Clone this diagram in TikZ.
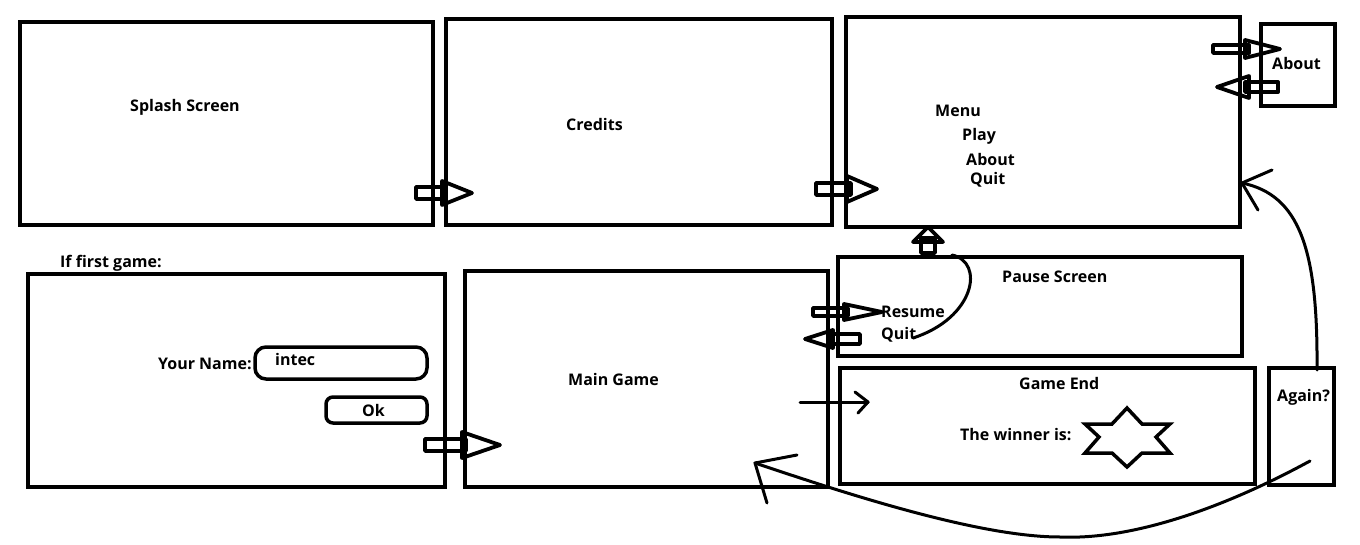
\documentclass[tikz,border=0pt]{standalone}
\usepackage{fontspec}
\setmainfont{Open Sans}
\begin{document}
\begin{tikzpicture}[x=1pt,y=-1pt,
  box/.style={draw, line width=4pt, inner sep=0pt, rectangle},
  lbl/.style={font=\fontsize{16}{19}\selectfont\bfseries, inner sep=0pt, anchor=base west, yshift=-1pt},
  arw/.style={draw, line width=3.8pt, line join=round},
  crv/.style={draw, line width=3pt, line cap=round, line join=round},
  pics/barrow/.style n args={4}{code={
    \draw[arw] (0,-#3) rectangle (#1-#2+4,#3);
    \draw[arw] (#1-#2,-#4) -- (#1,0) -- (#1-#2,#4) -- cycle;
  }}]
\useasboundingbox (0,0) rectangle (1360,545);
% boxes
\node[box, minimum width=413pt, minimum height=203pt] (splash) at (226.5,123.5) {};
\node[box, minimum width=386pt, minimum height=206pt] (credits) at (639,122) {};
\node[box, minimum width=394pt, minimum height=210pt] (menu) at (1043,122) {};
\node[box, minimum width=74pt, minimum height=82pt] (about) at (1298,65) {};
\node[box, minimum width=417pt, minimum height=213pt] (namebox) at (236.5,380.5) {};
\node[box, minimum width=363pt, minimum height=216pt] (main) at (646.5,379) {};
\node[box, minimum width=404pt, minimum height=99pt] (pause) at (1040,306.5) {};
\node[box, minimum width=415pt, minimum height=116pt] (gameend) at (1047.5,426) {};
\node[box, minimum width=65pt, minimum height=117pt] (again) at (1301.5,426.5) {};
\node[box, rounded corners=11pt, line width=3.5pt, minimum width=172pt, minimum height=32pt] (field) at (341,363) {};
\node[box, rounded corners=7pt, line width=3.5pt, minimum width=101pt, minimum height=26pt] (okbtn) at (376.5,410) {};
% labels
\node[lbl] (tsplash) at (130,111) {Splash Screen};
\node[lbl] (tcredits) at (566,130) {Credits};
\node[lbl] (tmenu) at (935,116) {Menu};
\node[lbl] (tplay) at (962,140) {Play};
\node[lbl] (tabout) at (966,165) {About};
\node[lbl] (tquit) at (970,184) {Quit};
\node[lbl] (tabout2) at (1272,69) {About};
\node[lbl] (tfirst) at (60,267) {If first game:};
\node[lbl] (tname) at (158,368) {Your Name:};
\node[lbl] (tintec) at (275,364) {intec};
\node[lbl] (tok) at (362,415) {Ok};
\node[lbl] (tmain) at (568,384) {Main Game};
\node[lbl] (tpause) at (1002,282) {Pause Screen};
\node[lbl] (tresume) at (881,316) {Resume};
\node[lbl] (tquit2) at (881,339) {Quit};
\node[lbl] (tend) at (1019,388) {Game End};
\node[lbl] (twinner) at (960,439) {The winner is:};
\node[lbl] (tagain) at (1277,400) {Again?};
% block arrows
\pic at (416,193) {barrow={56}{30}{6}{12}};
\pic at (816,189) {barrow={61}{30}{6}{13}};
\pic at (1213,49) {barrow={67}{35}{4}{9}};
\pic[rotate=180] at (1278,87) {barrow={61}{32}{5}{11}};
\pic[rotate=90] at (928,253) {barrow={26}{15}{7}{15}};
\pic at (813,312) {barrow={69}{38}{4}{8}};
\pic[rotate=180] at (860,339) {barrow={55}{28}{5}{9}};
\pic at (425,445) {barrow={75}{38}{6}{13}};
% star
\node[inner sep=0pt] (star) at (1127,437) {};
\draw[line width=3.5pt, line join=miter] (1127,408) -- (1112,424) -- (1085,424) -- (1099,437) -- (1085,453) -- (1112,453) -- (1127,467) -- (1142,453) -- (1170,453) -- (1156,437) -- (1170,424) -- (1142,424) -- cycle;
% line arrow main -> game end
\coordinate (l1) at (800,402);
\coordinate (l2) at (868,402);
\draw[crv] (l1) -- (l2);
\draw[crv] (855,392) -- (l2) -- (858,413);
% pause curve from Quit to top
\coordinate (q1) at (913,338);
\coordinate (q2) at (952,255);
\draw[crv] (q1) .. controls (975,318) and (985,262) .. (q2);
% again -> menu
\coordinate (g1) at (1317,370);
\coordinate (g2) at (1242,183);
\draw[crv] (g1) .. controls (1318,250) and (1300,195) .. (g2);
\draw[crv] (1272,170) -- (g2) -- (1258,210);
% bottom curve -> main game
\coordinate (b1) at (1310,461);
\coordinate (bm) at (1060,537);
\coordinate (b2) at (755,463);
\draw[crv] (b1) .. controls (1220,510) and (1130,540) .. (bm) .. controls (980,537) and (850,495) .. (b2);
\draw[crv] (797,455) -- (b2) -- (767,503);
\end{tikzpicture}
\end{document}
